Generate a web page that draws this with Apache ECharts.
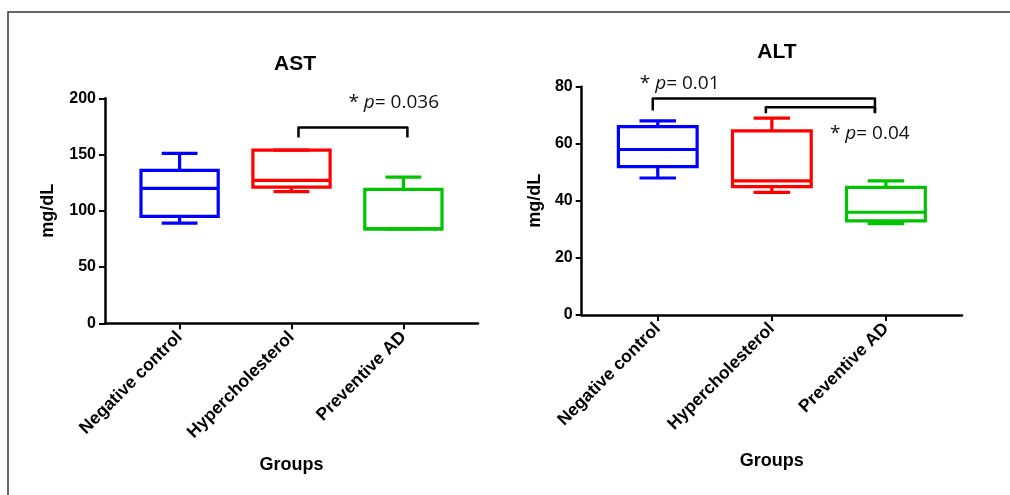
<!DOCTYPE html>
<html><head><meta charset="utf-8">
<script src="https://cdn.jsdelivr.net/npm/echarts@6/dist/echarts.min.js"></script>
<style>html,body{margin:0;padding:0;background:#fff}#c{width:1010px;height:495px}</style>
</head><body><div id="c"></div>
<script>
// ---------- data ----------
const categories = ['Negative control', 'Hypercholesterol', 'Preventive AD'];
// box stats: [min, Q1, median, Q3, max]
const astNegative   = [89, 95, 120, 136, 151];
const astHyper      = [117, 121, 127, 154, 154];
const astPreventive = [84, 84, 84, 119, 130];
const altNegative   = [48, 52, 58, 66, 68];
const altHyper      = [43, 45, 47, 64.5, 69];
const altPreventive = [32, 33, 36, 44.7, 47];
const astTicks = [0, 50, 100, 150, 200];
const altTicks = [0, 20, 40, 60, 80];
// comparisons: [fromGroup, toGroup, bracketLevel]
const astComparisons = [[1, 2, 174]];
const altComparisons = [[0, 2, 75.9], [1, 2, 72.8]];
const astPValues = ['0.036'];
const altPValues = ['0.01', '0.04'];

// ---------- styles / layout ----------
const BOX_COLORS = ['#0000ff', '#ff0000', '#00c400'];
const BOX_RATIO = 0.69, CAP_RATIO = 0.32;
const FONT = '"Liberation Sans", Arial, sans-serif';
const PFONT = '"Open Sans", sans-serif';
// per comparison pixel offsets: [dxFrom, dxTo, dropFrom, dropTo, textDx, textDy, anchor]
const AST_LAYOUT = [[7, 4, 10, 10, -55, -25, 'to']];
const ALT_LAYOUT = [[-5, -11, 12, 14, -18, -15, 'from'], [-6, -11, 6, 6, -56, 26, 'to']];

const groupIdx = categories.map((c, i) => i);
function boxData(arrs) { return arrs.map((a, i) => [groupIdx[i]].concat(a)); }

function boxRenderer(params, api) {
  const x = api.value(0);
  const v = [1, 2, 3, 4, 5].map(i => api.value(i));
  const band = api.size([1, 0])[0];
  const bw = band * BOX_RATIO / 2, cw = band * CAP_RATIO / 2;
  const p = v.map(val => api.coord([x, val]));
  const cx = p[0][0];
  const color = BOX_COLORS[params.dataIndex];
  const st = { stroke: color, lineWidth: 3.2, fill: null, lineCap: 'butt' };
  const line = (x1, y1, x2, y2) => ({ type: 'line', shape: { x1, y1, x2, y2 }, style: st });
  return { type: 'group', children: [
    line(cx, p[4][1], cx, p[3][1]),
    line(cx, p[1][1], cx, p[0][1]),
    line(cx - cw, p[4][1], cx + cw, p[4][1]),
    line(cx - cw, p[0][1], cx + cw, p[0][1]),
    { type: 'rect', shape: { x: cx - bw, y: p[3][1], width: 2 * bw, height: p[1][1] - p[3][1] },
      style: { stroke: color, lineWidth: 3.2, fill: 'rgba(0,0,0,0)' } },
    line(cx - bw, p[2][1], cx + bw, p[2][1])
  ] };
}

function makeCompRenderer(layout, pvals) {
  return function (params, api) {
    const from = api.value(0), to = api.value(1), level = api.value(2);
    const L = layout[params.dataIndex];
    const pf = api.coord([from, level]), pt = api.coord([to, level]);
    const x1 = pf[0] + L[0], x2 = pt[0] + L[1], y = pf[1];
    const pv = pvals[params.dataIndex];
    const tx = (L[6] === 'to' ? pt[0] : pf[0]) + L[4];
    return { type: 'group', children: [
      { type: 'polyline', shape: { points: [[x1, y + L[2]], [x1, y], [x2, y], [x2, y + L[3]]] },
        style: { stroke: '#000', lineWidth: 2.5, fill: null, lineJoin: 'round' } },
      { type: 'text', x: tx, y: y + L[5],
        style: { text: '* {i|p}= ' + pv, font: '19px ' + PFONT, fill: '#111', align: 'left', verticalAlign: 'middle',
          rich: { i: { fontStyle: 'italic', fontSize: 19, fontFamily: PFONT, fill: '#111' } } } }
    ] };
  };
}

function xAxisCfg(gi, gap) {
  return {
    type: 'value', gridIndex: gi, min: -2 / 3, max: 8 / 3,
    name: 'Groups', nameLocation: 'middle', nameGap: gap,
    nameTextStyle: { fontFamily: FONT, fontWeight: 'bold', fontSize: 18, color: '#000' },
    splitLine: { show: false },
    axisLine: { show: true, onZero: false, lineStyle: { color: '#000', width: 2.5 } },
    axisTick: { show: true, customValues: groupIdx, length: 6, lineStyle: { color: '#000', width: 2 } },
    axisLabel: { customValues: groupIdx, formatter: v => categories[Math.round(v)], rotate: 45,
      fontFamily: FONT, fontWeight: 'bold', fontSize: 17.5, color: '#000', margin: 11 }
  };
}
function yAxisCfg(gi, ticks, gap) {
  return {
    type: 'value', gridIndex: gi, min: ticks[0], max: ticks[ticks.length - 1], interval: ticks[1] - ticks[0],
    name: 'mg/dL', nameLocation: 'middle', nameRotate: 90, nameGap: gap,
    nameTextStyle: { fontFamily: FONT, fontWeight: 'bold', fontSize: 18, color: '#000' },
    splitLine: { show: false },
    axisLine: { show: true, onZero: false, lineStyle: { color: '#000', width: 2.5 } },
    axisTick: { show: true, length: 6, lineStyle: { color: '#000', width: 2 } },
    axisLabel: { fontFamily: FONT, fontWeight: 'bold', fontSize: 16, color: '#000', margin: 9 }
  };
}

const chart = echarts.init(document.getElementById('c'), null, { renderer: 'canvas' });
chart.setOption({
  animation: false,
  backgroundColor: '#fff',
  title: [
    { text: 'AST', left: 290, top: 49, textAlign: 'center', textStyle: { fontFamily: FONT, fontWeight: 'bold', fontSize: 21, color: '#000' } },
    { text: 'ALT', left: 772, top: 37, textAlign: 'center', textStyle: { fontFamily: FONT, fontWeight: 'bold', fontSize: 21, color: '#000' } }
  ],
  grid: [
    { left: 105, right: 532, top: 98.3, bottom: 171.7 },
    { left: 581.7, right: 48, top: 86.7, bottom: 180 }
  ],
  xAxis: [xAxisCfg(0, 133), xAxisCfg(1, 137)],
  yAxis: [yAxisCfg(0, astTicks, 48), yAxisCfg(1, altTicks, 38)],
  graphic: [
    { type: 'polyline', shape: { points: [[8, 495], [8, 12], [1010, 12]] }, style: { stroke: '#333', lineWidth: 1.5, fill: null } }
  ],
  series: [
    { type: 'custom', xAxisIndex: 0, yAxisIndex: 0, clip: false, renderItem: boxRenderer,
      encode: { x: 0, y: [1, 2, 3, 4, 5] }, data: boxData([astNegative, astHyper, astPreventive]) },
    { type: 'custom', xAxisIndex: 1, yAxisIndex: 1, clip: false, renderItem: boxRenderer,
      encode: { x: 0, y: [1, 2, 3, 4, 5] }, data: boxData([altNegative, altHyper, altPreventive]) },
    { type: 'custom', xAxisIndex: 0, yAxisIndex: 0, clip: false, renderItem: makeCompRenderer(AST_LAYOUT, astPValues),
      encode: { x: [0, 1], y: 2 }, data: astComparisons },
    { type: 'custom', xAxisIndex: 1, yAxisIndex: 1, clip: false, renderItem: makeCompRenderer(ALT_LAYOUT, altPValues),
      encode: { x: [0, 1], y: 2 }, data: altComparisons }
  ]
});
</script></body></html>
